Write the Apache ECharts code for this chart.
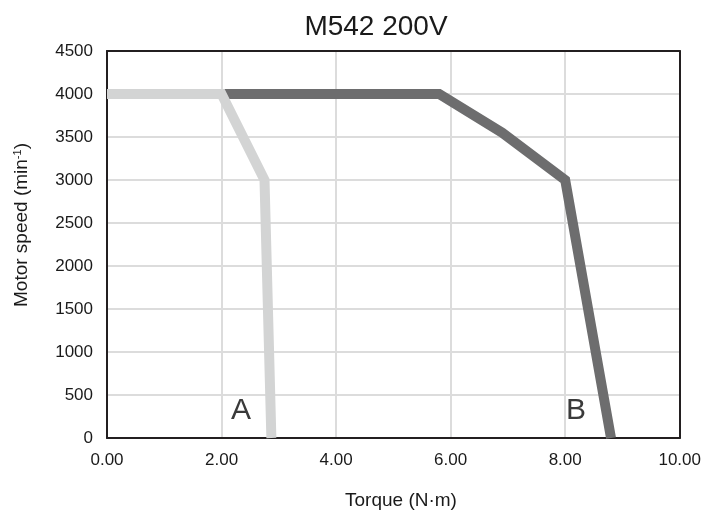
<!DOCTYPE html>
<html><head><meta charset="utf-8">
<script src="https://cdn.jsdelivr.net/npm/echarts@6/dist/echarts.min.js"></script>
<style>html,body{margin:0;padding:0;background:#fff}#c{width:704px;height:515px}</style>
</head><body><div id="c"></div>
<script>
const torqueA = [0, 2.0, 2.75, 2.87];
const speedA  = [4000, 4000, 3000, 0];
const torqueB = [0, 2.0, 5.8, 6.9, 8.0, 8.8];
const speedB  = [4000, 4000, 4000, 3550, 3000, 0];
const xTicks = [0, 2, 4, 6, 8, 10];
const yTicks = [0, 500, 1000, 1500, 2000, 2500, 3000, 3500, 4000, 4500];
const seriesNames = ['A', 'B'];

const chart = echarts.init(document.getElementById('c'), null, {renderer: 'canvas'});
const font = 'Liberation Sans, Arial, sans-serif';
const ink = '#1a1a1a';
const frame = {show: true, onZero: false, lineStyle: {color: '#231f20', width: 2}};
chart.setOption({
  animation: false,
  title: {text: 'M542 200V', left: 371, textAlign: 'center', top: 8,
    textStyle: {fontFamily: font, fontSize: 28, fontWeight: 'normal', color: ink}},
  grid: {left: 107, right: 24, top: 51, bottom: 77, containLabel: false},
  xAxis: [{type: 'value', min: xTicks[0], max: xTicks[xTicks.length-1], interval: 2,
    axisLine: frame,
    axisTick: {show: false},
    axisLabel: {fontFamily: font, fontSize: 17, color: ink, margin: 14, formatter: v => v.toFixed(2)},
    splitLine: {show: true, lineStyle: {color: '#dcdcdc', width: 2}}},
   {type: 'value', position: 'top', z: 5, min: xTicks[0], max: xTicks[xTicks.length-1], interval: 2,
    axisLine: frame, axisTick: {show: false}, axisLabel: {show: false}, splitLine: {show: false}}],
  yAxis: [{type: 'value', min: yTicks[0], max: yTicks[yTicks.length-1], interval: 500,
    axisLine: frame,
    axisTick: {show: false},
    axisLabel: {fontFamily: font, fontSize: 17, color: ink, margin: 14, formatter: v => String(v)},
    splitLine: {show: true, lineStyle: {color: '#dcdcdc', width: 2}}},
   {type: 'value', position: 'right', z: 5, min: yTicks[0], max: yTicks[yTicks.length-1], interval: 500,
    axisLine: frame, axisTick: {show: false}, axisLabel: {show: false}, splitLine: {show: false}}],
  series: [
    {name: seriesNames[1], type: 'line', data: torqueB.map((x,i)=>[x, speedB[i]]), showSymbol: false,
      lineStyle: {color: '#6d6d6e', width: 10, cap: 'butt', join: 'miter'}, z: 2},
    {name: seriesNames[0], type: 'line', data: torqueA.map((x,i)=>[x, speedA[i]]), showSymbol: false,
      lineStyle: {color: '#d3d4d4', width: 10, cap: 'butt', join: 'miter'}, z: 3}
  ],
  graphic: [
    {type: 'text', x: 22, y: 225, rotation: Math.PI/2,
      style: {text: '{a|Motor speed (min}{s|-1}{a|)}', textAlign: 'center', textVerticalAlign: 'middle',
        rich: {a: {fontFamily: font, fontSize: 19, fill: ink},
               s: {fontFamily: font, fontSize: 11, fill: ink, verticalAlign: 'top', padding: [0,0,8,0]}}}},
    {type: 'text', x: 401, y: 501,
      style: {text: 'Torque (N·m)', textAlign: 'center', textVerticalAlign: 'middle', fontFamily: font, fontSize: 19, fill: ink}},
    {type: 'text', left: 231, top: 396, style: {text: seriesNames[0], fontFamily: font, fontSize: 30, fill: '#3a3a3a'}},
    {type: 'text', left: 566, top: 396, style: {text: seriesNames[1], fontFamily: font, fontSize: 30, fill: '#3a3a3a'}}
  ]
});
</script></body></html>
